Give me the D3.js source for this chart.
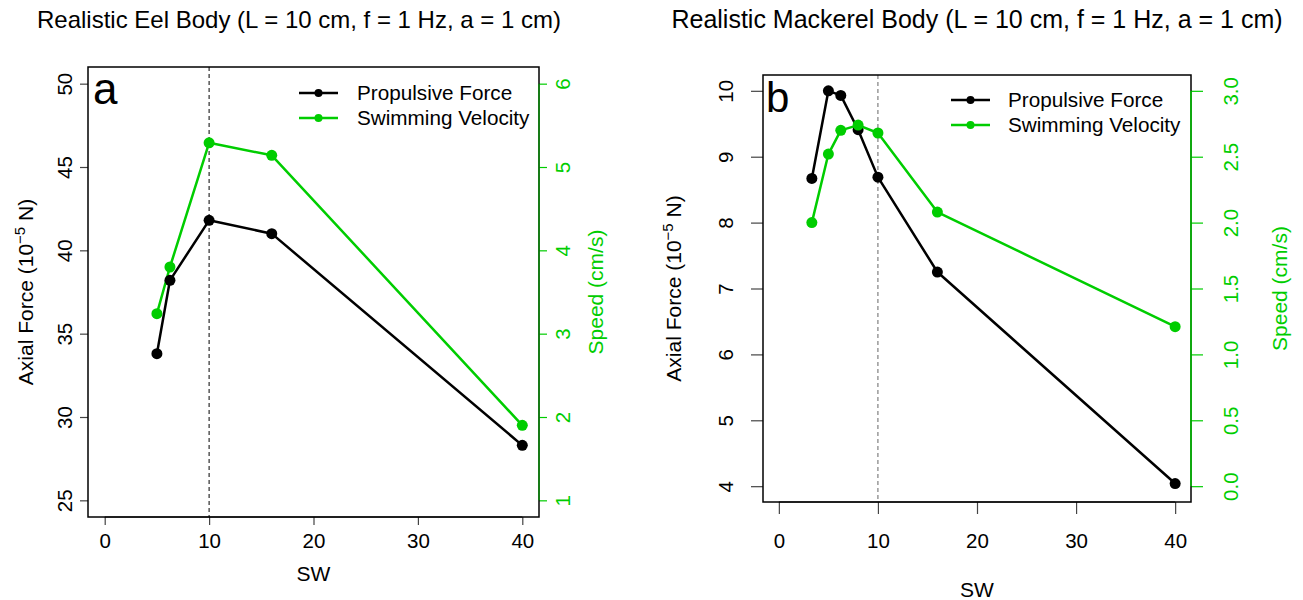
<!DOCTYPE html>
<html>
<head>
<meta charset="utf-8">
<script src="https://cdn.jsdelivr.net/npm/d3@7"></script>
<style>
  html, body { margin: 0; padding: 0; background: #fff; }
  svg { display: block; font-family: "Liberation Sans", Arial, Helvetica, sans-serif; }
</style>
</head>
<body>
<svg id="chart" width="1303" height="600"></svg>
<script>
// Shared x axis (SW)
const swTicks = [0, 10, 20, 30, 40];

// Realistic eel body
const eelSW = [5, 6.25, 10, 16, 40];
const eelForce = [33.8, 38.2, 41.8, 41.0, 28.3];
const eelSpeed = [3.24, 3.80, 5.29, 5.14, 1.90];
const eelForceTicks = [25, 30, 35, 40, 45, 50];
const eelSpeedTicks = [1, 2, 3, 4, 5, 6];

// Realistic mackerel body
const mackSW = [3.33, 5, 6.25, 8, 10, 16, 40];
const mackForce = [8.67, 10.0, 9.93, 9.41, 8.69, 7.25, 4.04];
const mackSpeed = [2.00, 2.52, 2.70, 2.74, 2.68, 2.08, 1.21];
const mackForceTicks = [4, 5, 6, 7, 8, 9, 10];
const mackSpeedTicks = [0, 0.5, 1.0, 1.5, 2.0, 2.5, 3.0];

const seriesNames = ["Propulsive Force", "Swimming Velocity"];
const forceColor = "#000000";
const speedColor = "#00CD00";

const svg = d3.select("#chart");

// R-style 4% padding around a range
function padded(lo, hi) {
  const p = (hi - lo) * 0.04;
  return [lo - p, hi + p];
}

function drawPanel(cfg) {
  const g = svg.append("g");
  const { left, right, top, bottom } = cfg.box;

  const x = d3.scaleLinear().domain(padded(0, 40)).range([left, right]);
  const yF = d3.scaleLinear().domain(padded(cfg.forceLim[0], cfg.forceLim[1])).range([bottom, top]);
  const yS = d3.scaleLinear().domain(padded(cfg.speedLim[0], cfg.speedLim[1])).range([bottom, top]);

  // Title
  g.append("text")
    .attr("x", cfg.titleX).attr("y", 28)
    .attr("text-anchor", "middle")
    .attr("font-size", cfg.titleSize)
    .attr("fill", "#000")
    .text(cfg.title);

  // Reference line at SW = 10
  g.append("line")
    .attr("x1", x(10)).attr("x2", x(10))
    .attr("y1", top).attr("y2", bottom)
    .attr("stroke", cfg.refColor).attr("stroke-width", 1)
    .attr("stroke-dasharray", "4,3");

  // Bottom axis
  const xAxis = g.append("g")
    .attr("transform", `translate(0,${bottom})`)
    .call(d3.axisBottom(x).tickValues(swTicks).tickSize(cfg.tick).tickSizeOuter(0).tickFormat(d3.format("d")));
  xAxis.select(".domain").remove();
  xAxis.selectAll(".tick line").attr("stroke", "#444").attr("stroke-width", 1.2);
  xAxis.selectAll(".tick text")
    .attr("y", cfg.xLabelBase - bottom).attr("dy", 0)
    .attr("font-size", 20.5).attr("fill", "#000")
    .attr("font-family", "Liberation Sans, Arial, sans-serif");
  g.append("line")
    .attr("x1", x(swTicks[0])).attr("x2", x(swTicks[swTicks.length - 1]))
    .attr("y1", bottom).attr("y2", bottom)
    .attr("stroke", "#000").attr("stroke-width", 1.2);

  // Left axis (force)
  const yAxisL = g.append("g")
    .attr("transform", `translate(${left},0)`)
    .call(d3.axisLeft(yF).tickValues(cfg.forceTicks).tickSize(cfg.tick).tickSizeOuter(0).tickFormat(d3.format("d")));
  yAxisL.select(".domain").remove();
  yAxisL.selectAll(".tick line").attr("stroke", "#444").attr("stroke-width", 1.2);
  yAxisL.selectAll(".tick text")
    .attr("transform", "rotate(-90)")
    .attr("x", 0).attr("y", cfg.yLabelBaseL - left).attr("dy", 0)
    .attr("text-anchor", "middle")
    .attr("font-size", 20.5).attr("fill", "#000")
    .attr("font-family", "Liberation Sans, Arial, sans-serif");

  // Right axis (speed)
  const yAxisR = g.append("g")
    .attr("transform", `translate(${right},0)`)
    .call(d3.axisRight(yS).tickValues(cfg.speedTicks).tickSize(cfg.tick).tickSizeOuter(0).tickFormat(cfg.speedFormat));
  yAxisR.select(".domain").remove();
  yAxisR.selectAll(".tick line").attr("stroke", speedColor).attr("stroke-width", 1.2);
  yAxisR.selectAll(".tick text")
    .attr("transform", "rotate(-90)")
    .attr("x", 0).attr("y", cfg.yLabelBaseR - right).attr("dy", 0)
    .attr("text-anchor", "middle")
    .attr("font-size", 20.5).attr("fill", speedColor)
    .attr("font-family", "Liberation Sans, Arial, sans-serif");

  // Plot frame
  g.append("rect")
    .attr("x", left).attr("y", top)
    .attr("width", right - left).attr("height", bottom - top)
    .attr("fill", "none").attr("stroke", "#000").attr("stroke-width", 1.5);

  // Speed axis line
  g.append("line")
    .attr("x1", right).attr("x2", right)
    .attr("y1", yS(cfg.speedTicks[0])).attr("y2", yS(cfg.speedTicks[cfg.speedTicks.length - 1]))
    .attr("stroke", cfg.speedAxisColor).attr("stroke-width", 1.5);

  // Axis titles
  g.append("text")
    .attr("x", x(20)).attr("y", cfg.swBase)
    .attr("text-anchor", "middle").attr("font-size", 21).attr("fill", "#000")
    .text("SW");

  const midY = (top + bottom) / 2;
  const forceLabel = g.append("text")
    .attr("transform", `translate(${cfg.forceTitleX},${midY}) rotate(-90)`)
    .attr("text-anchor", "middle").attr("font-size", 21).attr("fill", "#000");
  forceLabel.append("tspan").text("Axial Force (10");
  forceLabel.append("tspan").attr("font-size", 15).attr("dy", -8).text("\u22125");
  forceLabel.append("tspan").attr("dy", 8).text(" N)");

  g.append("text")
    .attr("transform", `translate(${cfg.speedTitleX},${midY}) rotate(-90)`)
    .attr("text-anchor", "middle").attr("font-size", 21).attr("fill", speedColor)
    .text("Speed (cm/s)");

  // Series
  const forcePts = cfg.sw.map((d, i) => [d, cfg.force[i]]);
  const speedPts = cfg.sw.map((d, i) => [d, cfg.speed[i]]);
  const series = [
    { pts: speedPts, y: yS, color: speedColor },
    { pts: forcePts, y: yF, color: forceColor }
  ];
  const order = cfg.forceOnTop ? series : series.slice().reverse();
  order.forEach(s => {
    const line = d3.line().x(d => x(d[0])).y(d => s.y(d[1]));
    g.append("path")
      .attr("d", line(s.pts))
      .attr("fill", "none").attr("stroke", s.color).attr("stroke-width", 2.5)
      .attr("stroke-linejoin", "round");
    g.selectAll(null).data(s.pts).enter().append("circle")
      .attr("cx", d => x(d[0])).attr("cy", d => s.y(d[1]))
      .attr("r", 5.5).attr("fill", s.color);
  });

  // Panel letter
  g.append("text")
    .attr("x", cfg.letterX).attr("y", cfg.letterBase)
    .attr("font-size", cfg.letterSize).attr("fill", "#000")
    .text(cfg.letter);

  // Legend
  const leg = g.append("g");
  [forceColor, speedColor].forEach((c, i) => {
    const ly = cfg.legend.y0 + i * 25;
    leg.append("line")
      .attr("x1", cfg.legend.x0).attr("x2", cfg.legend.x0 + 39)
      .attr("y1", ly).attr("y2", ly)
      .attr("stroke", c).attr("stroke-width", 2.5);
    leg.append("circle")
      .attr("cx", cfg.legend.x0 + 19.5).attr("cy", ly).attr("r", 4).attr("fill", c);
    leg.append("text")
      .attr("x", cfg.legend.textX).attr("y", ly + 7)
      .attr("font-size", 20.7).attr("fill", "#000")
      .text(seriesNames[i]);
  });
}

drawPanel({
  title: "Realistic Eel Body (L = 10 cm, f = 1 Hz, a = 1 cm)",
  titleX: 299, titleSize: 24,
  box: { left: 88, right: 539, top: 67, bottom: 517 },
  tick: 8,
  sw: eelSW, force: eelForce, speed: eelSpeed,
  forceLim: [25, 50], speedLim: [1, 6],
  forceTicks: eelForceTicks, speedTicks: eelSpeedTicks,
  speedFormat: d3.format("d"),
  xLabelBase: 548, swBase: 581,
  yLabelBaseL: 72, yLabelBaseR: 570,
  forceTitleX: 33, speedTitleX: 603,
  refColor: "#000", speedAxisColor: "#0b8f0b",
  letter: "a", letterX: 93, letterBase: 104, letterSize: 44,
  legend: { x0: 299, y0: 93, textX: 357 },
  forceOnTop: true
});

drawPanel({
  title: "Realistic Mackerel Body (L = 10 cm, f = 1 Hz, a = 1 cm)",
  titleX: 977, titleSize: 25,
  box: { left: 763, right: 1191, top: 75, bottom: 502 },
  tick: 12,
  sw: mackSW, force: mackForce, speed: mackSpeed,
  forceLim: [4, 10], speedLim: [0, 3],
  forceTicks: mackForceTicks, speedTicks: mackSpeedTicks,
  speedFormat: d3.format(".1f"),
  xLabelBase: 548, swBase: 597,
  yLabelBaseL: 733, yLabelBaseR: 1238,
  forceTitleX: 681, speedTitleX: 1287,
  refColor: "#666", speedAxisColor: speedColor,
  letter: "b", letterX: 766, letterBase: 112, letterSize: 42,
  legend: { x0: 951, y0: 100, textX: 1008 },
  forceOnTop: false
});
</script>
</body>
</html>
